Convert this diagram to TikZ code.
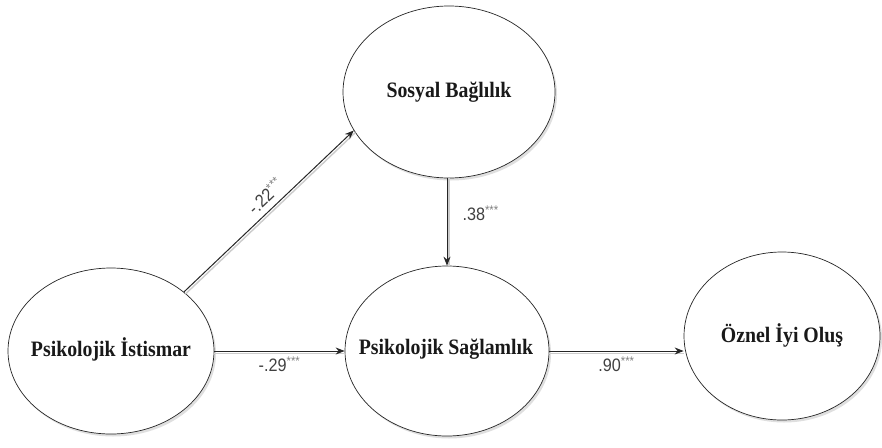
\documentclass[tikz,border=0pt]{standalone}
\usepackage{fontspec}
\setmainfont{Liberation Serif}[FakeStretch=0.9]
\newfontfamily\coeffont{Liberation Sans}[FakeStretch=0.9]
\usetikzlibrary{shapes.geometric,arrows.meta,shadows}
\newcommand\coefstars{\textsuperscript{\color{black!50}***}}
\tikzset{
  latent/.style={ellipse, draw=black!85, line width=0.7pt, fill=white, inner sep=0pt,
    drop shadow={shadow xshift=2pt, shadow yshift=-2.5pt, opacity=0.25}},
  nodetext/.style={font=\fontsize{22}{26}\selectfont\bfseries, text=black!90, inner sep=0pt},
  pathline/.style={draw=black!85, line width=1pt, -{Stealth[length=9pt,width=7pt]}},
  pathshadow/.style={draw=gray!40, line width=1.4pt},
  coef/.style={font=\coeffont\fontsize{18}{21}\selectfont, text=black!75, inner sep=1pt},
}
\begin{document}
\begin{tikzpicture}[x=1pt,y=-1pt]
\useasboundingbox (0,0) rectangle (882,447);
\fill[white] (0,0) rectangle (882,447);

\node[latent, minimum width=206pt, minimum height=166pt] (ist) at (111,351) {};
\node[latent, minimum width=212pt, minimum height=172pt] (sos) at (449,92) {};
\node[latent, minimum width=204pt, minimum height=170pt] (sag) at (447,351) {};
\node[latent, minimum width=196pt, minimum height=168pt] (oz) at (782,336) {};

\node[nodetext] (istt) at (111,349) {Psikolojik İstismar};
\node[nodetext] (sost) at (449,92) {Sosyal Bağlılık};
\node[nodetext] (sagt) at (446,349) {Psikolojik Sağlamlık};
\node[nodetext] (ozt) at (782,335) {Öznel İyi Oluş};

% shadow lines
\draw[pathshadow, transform canvas={shift={(1.6pt,-2pt)}}] (ist.39) -- (sos.202);
\draw[pathshadow, transform canvas={shift={(0pt,-2.2pt)}}] (ist.east) -- (sag.west);
\draw[pathshadow, transform canvas={shift={(0pt,-2.2pt)}}] (sag.east) -- (sag.east -| oz.west);
\draw[pathshadow, transform canvas={shift={(2pt,0pt)}}] (sos.south -| sag.north) -- (sag.north);

% paths
\draw[pathline] (ist.39) -- (sos.202);
\node[coef, rotate=43.3] (c1) at (265,196) {-.22\coefstars};
\draw[pathline] (ist.east) -- node[coef, midway, below=4pt] (c2) {-.29\coefstars} (sag.west);
\draw[pathline] (sag.east) -- node[coef, midway, below=4pt] (c3) {.90\coefstars} (sag.east -| oz.west);
\draw[pathline] (sos.south -| sag.north) -- node[coef, pos=0.4, right=14pt] (c4) {.38\coefstars} (sag.north);
\end{tikzpicture}
\end{document}
